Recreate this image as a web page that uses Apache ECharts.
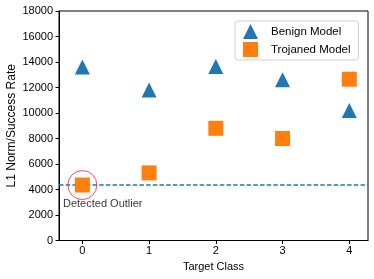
<!DOCTYPE html>
<html>
<head>
<meta charset="utf-8">
<script src="https://cdn.jsdelivr.net/npm/echarts@6/dist/echarts.min.js"></script>
<style>html,body{margin:0;padding:0;background:#fff}#c{width:374px;height:279px}</style>
</head>
<body>
<div id="c"></div>
<script>
const classes = [0, 1, 2, 3, 4];
const benign = [13600, 11800, 13650, 12600, 10200];
const trojaned = [4350, 5300, 8800, 8000, 12650];
const threshold = 4350;
const outlierClass = 0;
const outlierLabel = 'Detected Outlier';
const outlierLabelPos = [-0.29, 2900];
const xRange = [-0.35, 4.28];

const FONT = 'Liberation Sans';
const chart = echarts.init(document.getElementById('c'), null, {renderer: 'canvas'});
chart.setOption({
  animation: false,
  textStyle: {fontFamily: FONT},
  grid: {left: 59, right: 6, top: 11, bottom: 38.5, containLabel: false, outerBoundsMode: 'none', show: true, borderColor: '#000', borderWidth: 1, backgroundColor: 'transparent'},
  legend: {
    orient: 'vertical', left: 235, top: 21,
    itemWidth: 15, itemHeight: 15, itemGap: 3,
    padding: [3, 8, 3, 8],
    borderColor: '#d0d0d0', borderWidth: 1, borderRadius: 3,
    backgroundColor: 'rgba(255,255,255,0.8)',
    textStyle: {fontFamily: FONT, fontSize: 11.5, color: '#000', padding: [0, 0, 0, 8]},
    data: [{name: 'Benign Model', icon: 'triangle'}, {name: 'Trojaned Model', icon: 'rect'}]
  },
  xAxis: {
    type: 'value', min: xRange[0], max: xRange[1],
    name: 'Target Class', nameLocation: 'middle', nameGap: 21, nameMoveOverlap: false,
    nameTextStyle: {fontFamily: FONT, fontSize: 11, color: '#000'},
    axisLine: {show: true, onZero: false, lineStyle: {color: '#000', width: 1}},
    axisTick: {show: true, length: 3.5, lineStyle: {color: '#000'}, customValues: classes},
    axisLabel: {fontFamily: FONT, fontSize: 11, color: '#000', margin: 5, customValues: classes},
    splitLine: {show: false}
  },
  yAxis: {
    type: 'value', min: 0, max: 18000, interval: 2000,
    name: 'L1 Norm/Success Rate', nameLocation: 'middle', nameGap: 41, nameMoveOverlap: false,
    nameTextStyle: {fontFamily: FONT, fontSize: 12, color: '#000'},
    axisLine: {show: true, onZero: false, lineStyle: {color: '#000', width: 1}},
    axisTick: {show: true, length: 3.5, lineStyle: {color: '#000'}},
    axisLabel: {fontFamily: FONT, fontSize: 11, color: '#000', margin: 6, formatter: v => String(v)},
    splitLine: {show: false}
  },
  series: [
    {
      name: 'threshold', type: 'line', symbol: 'none', silent: true, z: 2,
      lineStyle: {color: '#1f77b4', type: [4.5, 2.2], width: 1.5},
      data: [[xRange[0], threshold], [xRange[1], threshold]]
    },
    {
      name: 'Benign Model', type: 'scatter', symbol: 'triangle', symbolSize: 15,
      itemStyle: {color: '#1f77b4', opacity: 1},
      data: classes.map((c, i) => [c, benign[i]]),
      z: 3
    },
    {
      name: 'Trojaned Model', type: 'scatter', symbol: 'rect', symbolSize: 15,
      itemStyle: {color: '#ff7f0e', opacity: 1},
      data: classes.map((c, i) => [c, trojaned[i]]),
      z: 3
    },
    {
      name: 'outlier', type: 'scatter', symbol: 'circle', symbolSize: 29,
      itemStyle: {color: 'rgba(0,0,0,0)', borderColor: '#e8262a', borderWidth: 1},
      data: [[outlierClass, trojaned[outlierClass]]],
      z: 5
    },
    {
      name: 'outlierText', type: 'scatter', symbolSize: 0,
      data: [outlierLabelPos],
      label: {show: true, position: 'right', distance: 0, formatter: outlierLabel, fontFamily: FONT, fontSize: 11, color: '#000'},
      z: 5
    }
  ]
});
</script>
</body>
</html>
